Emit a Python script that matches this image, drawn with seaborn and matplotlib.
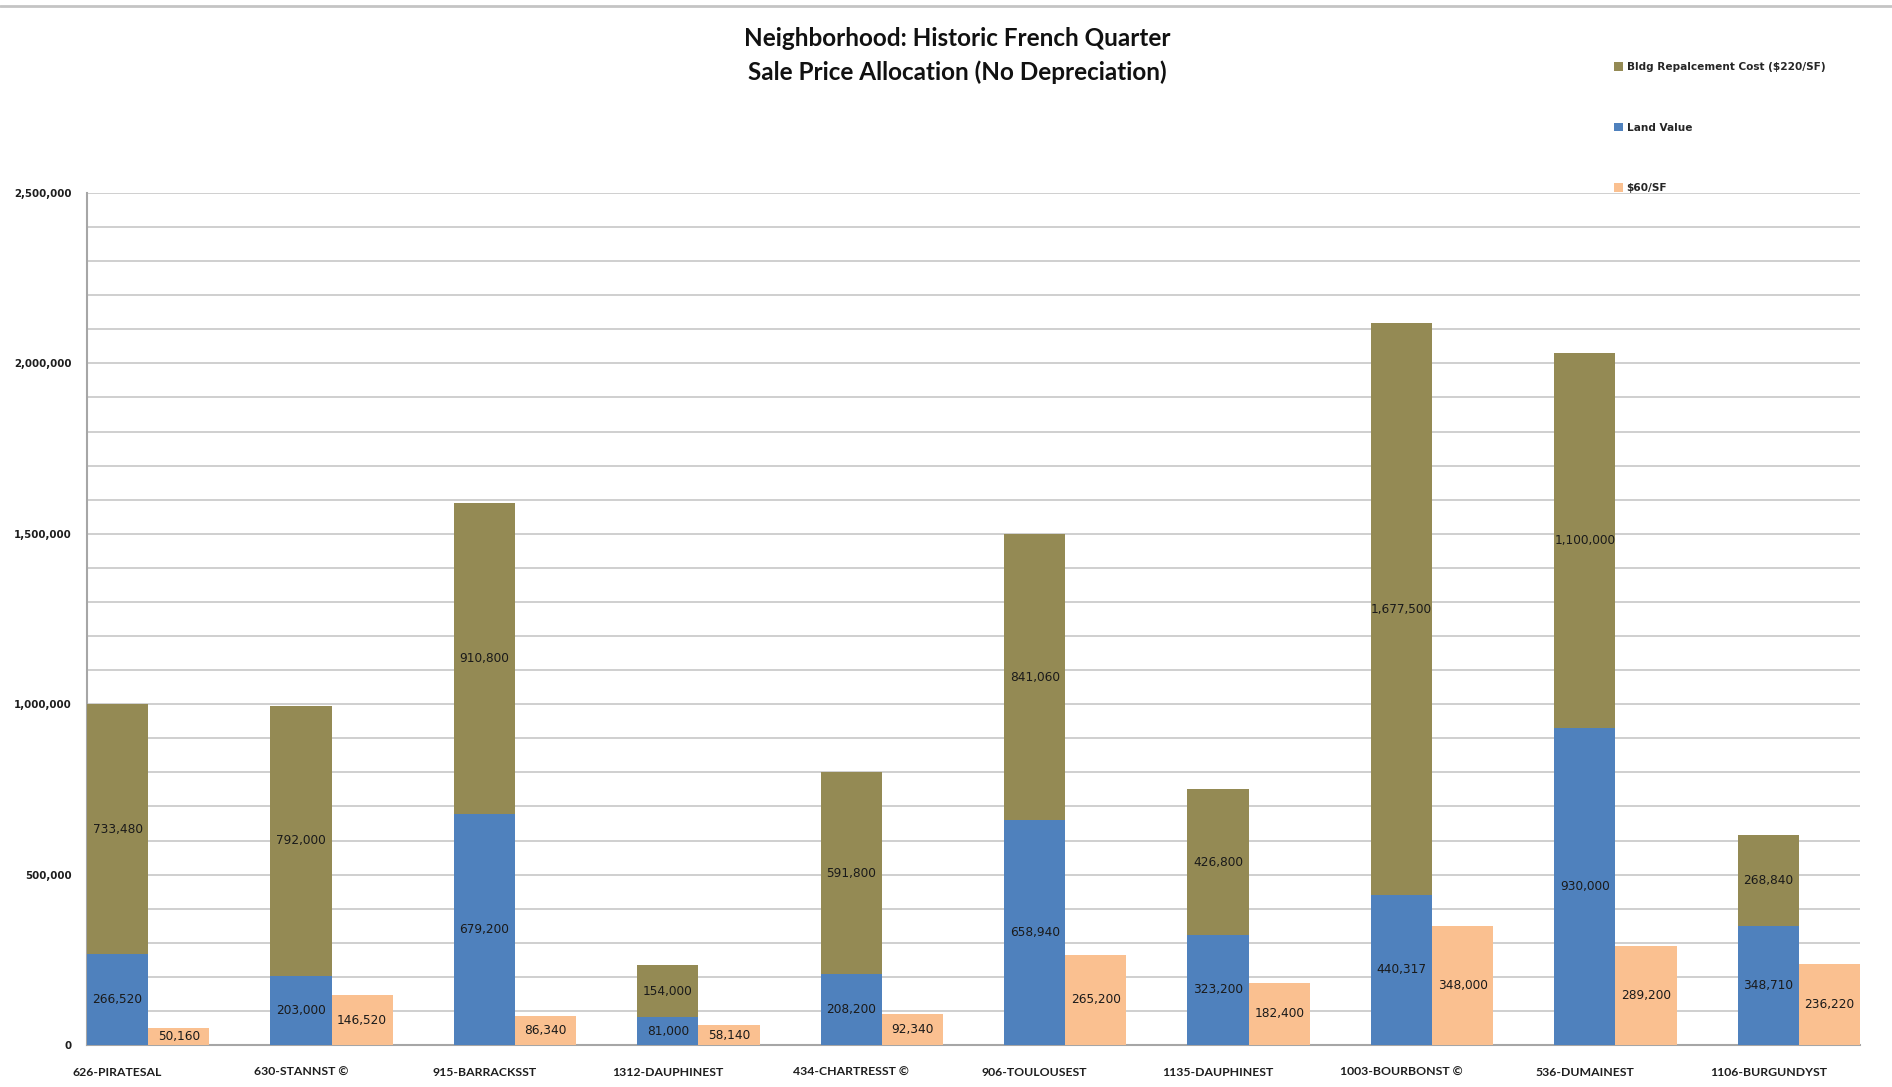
import numpy as np
import pandas as pd
import matplotlib
matplotlib.use("Agg")
import matplotlib.pyplot as plt
from matplotlib.patches import Patch
from matplotlib.lines import Line2D
from matplotlib.ticker import FuncFormatter, MultipleLocator
import seaborn as sns

# Properties sold in the neighborhood
properties = ["626-PIRATESAL", "630-STANNST ©", "915-BARRACKSST", "1312-DAUPHINEST",
              "434-CHARTRESST ©", "906-TOULOUSEST", "1135-DAUPHINEST",
              "1003-BOURBONST ©", "536-DUMAINEST", "1106-BURGUNDYST"]

# Sale price split into land value and building replacement cost
land_value = [266520, 203000, 679200, 81000, 208200, 658940, 323200, 440317, 930000, 348710]
bldg_cost = [733480, 792000, 910800, 154000, 591800, 841060, 426800, 1677500, 1100000, 268840]
# Land at $60 per square foot
per_sf_60 = [50160, 146520, 86340, 58140, 92340, 265200, 182400, 348000, 289200, 236220]

series_labels = ["Bldg Repalcement Cost ($220/SF)", "Land Value", "$60/SF"]
title_lines = ["Neighborhood: Historic French Quarter", "Sale Price Allocation (No Depreciation)"]

OLIVE = "#948A54"
BLUE = "#4F81BD"
PEACH = "#FAC090"

sns.set_theme(style="white")
plt.rcParams["font.family"] = ["DejaVu Sans"]

W, H = 1892, 1087
fig = plt.figure(figsize=(W / 100, H / 100), dpi=100)
fig.patch.set_facecolor("white")
ax = fig.add_axes([87 / W, 1 - 1045 / H, (1860 - 87) / W, (1045 - 193) / H])

bar_w = 1 / 3
idx = np.arange(len(properties))
df = pd.DataFrame({
    "pos": idx.astype(float),
    "land": land_value,
    "bldg": bldg_cost,
    "pos60": idx + bar_w,
    "sf60": per_sf_60,
})
df["total"] = df["land"] + df["bldg"]

common = dict(native_scale=True, width=bar_w, saturation=1, errorbar=None,
              linewidth=0, orient="x", ax=ax, zorder=3)
# Stacked bar: full height in olive, land value drawn over its lower part
sns.barplot(data=df, x="pos", y="total", color=OLIVE, **common)
sns.barplot(data=df, x="pos", y="land", color=BLUE, **common)
sns.barplot(data=df, x="pos60", y="sf60", color=PEACH, **common)

# Value labels centered in each segment
lab_kw = dict(ha="center", va="center", fontsize=8.7, color="#1a1a1a", zorder=5)
for i, row in df.iterrows():
    ax.text(row["pos"], row["land"] / 2, f"{int(row['land']):,}", **lab_kw)
    ax.text(row["pos"], row["land"] + row["bldg"] / 2, f"{int(row['bldg']):,}", **lab_kw)
    ax.text(row["pos60"], row["sf60"] / 2, f"{int(row['sf60']):,}", **lab_kw)

ax.set_xlim(-bar_w / 2, len(properties) - 1 + bar_w * 1.5)
ax.set_ylim(0, 2_500_000)
ax.yaxis.set_major_locator(MultipleLocator(500_000))
ax.yaxis.set_minor_locator(MultipleLocator(100_000))
ax.yaxis.set_major_formatter(FuncFormatter(lambda v, p: f"{int(v):,}"))
ax.grid(axis="y", which="both", color="#cfcfcf", linewidth=1.4, zorder=0)
ax.grid(axis="x", visible=False)
ax.set_axisbelow(True)

ax.set_xticks(idx)
ax.set_xticklabels(properties, family=["Lato", "DejaVu Sans"],
                   fontweight="bold", fontsize=8.8, color="#1e1e1e")
for lbl in ax.get_yticklabels():
    lbl.set_fontweight("bold")
    lbl.set_fontsize(7.4)
    lbl.set_color("#1e1e1e")
ax.tick_params(axis="y", which="both", length=0, pad=11)
ax.tick_params(axis="x", length=0, pad=16)
ax.set_xlabel("")
ax.set_ylabel("")

for side in ["top", "right"]:
    ax.spines[side].set_visible(False)
for side in ["left", "bottom"]:
    ax.spines[side].set_color("#a6a6a6")
    ax.spines[side].set_linewidth(1.5)

# Titles
for k, ypix in enumerate([38, 72]):
    fig.text(957 / W, 1 - ypix / H, title_lines[k], ha="center", va="center",
             family=["Lato", "DejaVu Sans"], fontweight="bold", fontsize=17.5,
             color="#111111")

# Thin rule across the top
fig.add_artist(Line2D([0, 1], [1 - 6 / H, 1 - 6 / H], transform=fig.transFigure,
                      color="#c4c4c4", linewidth=2))

handles = [Patch(facecolor=OLIVE, edgecolor="none"),
           Patch(facecolor=BLUE, edgecolor="none"),
           Patch(facecolor=PEACH, edgecolor="none")]
fig.legend(handles, series_labels, loc="upper left",
           bbox_to_anchor=(1614 / W, 1 - 62 / H), frameon=False,
           prop={"size": 7.6, "weight": "bold"}, handlelength=0.85,
           handleheight=0.85, handletextpad=0.35,
           labelspacing=4.8, borderpad=0, borderaxespad=0)

fig.savefig("out.png", dpi=100, facecolor="white")
